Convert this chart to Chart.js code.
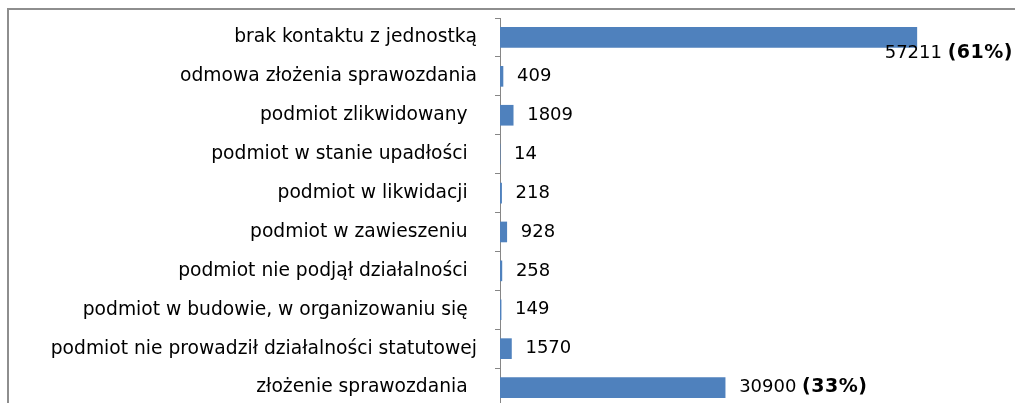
<!DOCTYPE html>
<html><head><meta charset="utf-8">
<script src="https://cdn.jsdelivr.net/npm/chart.js@4/dist/chart.umd.min.js"></script>
<style>
html,body{margin:0;padding:0;overflow:hidden;background:#fff;width:1015px;height:403px;}
#wrap{position:absolute;left:0;top:0;width:1015px;height:407px;}
#frame{position:absolute;left:7px;top:8px;width:1100px;height:500px;border-left:2px solid #8e8e8e;border-top:2px solid #8e8e8e;}
canvas{position:absolute;left:0;top:0;}
</style></head>
<body>
<div id="frame"></div>
<div id="wrap"><canvas id="c" width="1015" height="407"></canvas></div>
<script>
const categories = [
  "brak kontaktu z jednostką",
  "odmowa złożenia sprawozdania",
  "podmiot zlikwidowany\u2002",
  "podmiot w stanie upadłości\u2002",
  "podmiot w likwidacji\u2002",
  "podmiot w zawieszeniu\u2002",
  "podmiot nie podjął działalności\u2002",
  "podmiot w budowie, w organizowaniu się\u2002",
  "podmiot nie prowadził działalności statutowej",
  "złożenie sprawozdania\u2002"
];
const values = [57211, 409, 1809, 14, 218, 928, 258, 149, 1570, 30900];
const percents = ["61%", null, null, null, null, null, null, null, null, "33%"];

const FONT = '"DejaVu Sans", Verdana, sans-serif';
const FS = 18;
const FS_BOLD = 19;
const FS_CAT = 18.7;

const labelPlugin = {
  id: 'valueLabels',
  afterDatasetsDraw(chart) {
    const ctx = chart.ctx;
    const meta = chart.getDatasetMeta(0);
    ctx.save();
    ctx.textBaseline = 'middle';
    ctx.fillStyle = '#000';
    meta.data.forEach((el, i) => {
      const num = String(values[i]);
      const pct = percents[i] ? '(' + percents[i] + ')' : '';
      ctx.letterSpacing = '0px';
      ctx.font = FS + 'px ' + FONT;
      const wNum = ctx.measureText(num + (pct ? ' ' : '')).width;
      ctx.font = 'bold ' + FS_BOLD + 'px ' + FONT;
      ctx.letterSpacing = '0.5px';
      const wPct = pct ? ctx.measureText(pct).width : 0;
      const total = wNum + wPct;
      let x = el.x + 14, y = el.y;
      if (x + total > chart.width) {
        x = chart.width - 2 - total;
        y = el.y + 16;
      }
      ctx.textAlign = 'left';
      ctx.letterSpacing = '0px';
      ctx.font = FS + 'px ' + FONT;
      ctx.fillText(num + (pct ? ' ' : ''), x, y);
      if (pct) {
        ctx.font = 'bold ' + FS_BOLD + 'px ' + FONT;
        ctx.letterSpacing = '0.5px';
        ctx.fillText(pct, x + wNum, y);
      }
    });
    ctx.restore();
  }
};

new Chart(document.getElementById('c'), {
  type: 'bar',
  data: {
    labels: categories,
    datasets: [{
      data: values,
      backgroundColor: '#4f81bd',
      borderWidth: 0,
      barThickness: 20
    }]
  },
  options: {
    indexAxis: 'y',
    responsive: false,
    maintainAspectRatio: false,
    animation: false,
    events: [],
    layout: { padding: { top: 18, right: 5, bottom: 0, left: 0 } },
    plugins: { legend: { display: false }, tooltip: { enabled: false } },
    scales: {
      x: { display: false, min: 0, max: 70000 },
      y: {
        afterFit(s) { s.width = 500; s.paddingTop = 0; s.paddingBottom = 0; },
        border: { display: true, color: '#868686', width: 1 },
        grid: { offset: true, drawOnChartArea: false, drawTicks: true, tickLength: 5, color: '#868686' },
        ticks: { color: '#000', padding: 18, font: { family: FONT, size: FS_CAT }, autoSkip: false }
      }
    }
  },
  plugins: [labelPlugin]
});
</script>
</body></html>
